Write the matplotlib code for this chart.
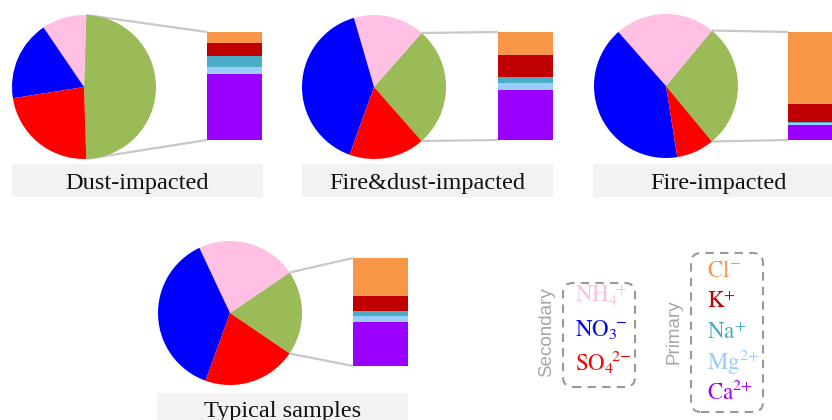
import numpy as np
import matplotlib.pyplot as plt
from matplotlib.patches import Rectangle, FancyBboxPatch

plt.rcParams["mathtext.fontset"] = "stix"

# =========================
# Data (percent)
# =========================

panel_titles = ["Dust-impacted", "Fire&dust-impacted", "Fire-impacted", "Typical samples"]

# pie order: Primary, NH4+, NO3-, SO4 2-
primary = [49.0, 27.0, 28.0, 19.0]
nh4 = [10.0, 16.0, 22.5, 22.5]
no3 = [18.0, 40.0, 41.0, 37.5]
so4 = [23.0, 17.0, 8.5, 21.0]

# primary breakdown (top to bottom in bar)
cl = [10.0, 21.0, 66.5, 35.5]
k = [12.0, 21.0, 16.5, 14.0]
na = [10.0, 5.0, 1.5, 4.5]
mg = [6.5, 7.0, 2.0, 5.5]
ca = [61.5, 46.0, 13.5, 40.5]

secondary_labels = [r"$\mathrm{NH_4\!{}^{+}}$", r"$\mathrm{NO_3\!{}^{-}}$",
                    r"$\mathrm{SO_4\!{}^{2{-}}}$"]
primary_labels = [r"$\mathrm{Cl^{-}}$", r"$\mathrm{K^{+}}$", r"$\mathrm{Na^{+}}$",
                  r"$\mathrm{Mg^{2{+}}}$", r"$\mathrm{Ca^{2{+}}}$"]

# =========================
# Styling / layout
# =========================

pie_colors = ["#9BBB59", "#FFC0E3", "#0000FF", "#FF0000"]
bar_colors = ["#F79646", "#C00000", "#4BACC6", "#99CCFF", "#9900FF"]

pie_centers = [(84, 333), (374, 333), (666, 334), (230, 107)]
pie_radius = 72
bar_left = [207, 498, 788, 353]
bar_bottom = [280, 280, 280, 54]
bar_height = 108
bar_width = 55
title_boxes = [(12, 223), (302, 223), (593, 223), (157, -6)]
title_text_y = [236, 236, 236, 9]
title_w, title_h = 251, 33

serif = "Liberation Serif"

fig = plt.figure(figsize=(8.32, 4.2), dpi=100)
ax = fig.add_axes([0, 0, 1, 1])
ax.set_xlim(0, 832)
ax.set_ylim(0, 420)
ax.set_aspect("equal")
ax.axis("off")

for i in range(4):
    fracs = [primary[i], nh4[i], no3[i], so4[i]]
    start = -180 * primary[i] / sum(fracs)
    wedges, _ = ax.pie(
        fracs,
        colors=pie_colors,
        startangle=start,
        center=pie_centers[i],
        radius=pie_radius,
        wedgeprops=dict(linewidth=0),
        frame=True,
    )

    # stacked bar, Ca at bottom, Cl at top
    parts = [ca[i], mg[i], na[i], k[i], cl[i]]
    part_colors = bar_colors[::-1]
    total = sum(parts)
    bottom = bar_bottom[i]
    for value, color in zip(parts, part_colors):
        h = value / total * bar_height
        ax.bar(bar_left[i], h, width=bar_width, bottom=bottom, color=color,
               align="edge", linewidth=0)
        bottom += h

    # connection lines
    w = wedges[0]
    cx, cy = w.center
    r = w.r
    for theta, by in [(w.theta2, bar_bottom[i] + bar_height), (w.theta1, bar_bottom[i])]:
        px = cx + r * np.cos(np.radians(theta))
        py = cy + r * np.sin(np.radians(theta))
        ax.plot([px, bar_left[i]], [py, by], color="#C8C8C8", linewidth=1.6,
                solid_capstyle="butt", zorder=0)

    # title box
    bx, by = title_boxes[i]
    ax.add_patch(Rectangle((bx, by), title_w, title_h, facecolor="#F2F2F2",
                           edgecolor="none", zorder=0))
    ax.text(bx + title_w / 2, title_text_y[i], panel_titles[i], ha="center",
            va="center", fontsize=17.5, family=serif, color="#111111")

ax.set_xlim(0, 832)
ax.set_ylim(0, 420)

# =========================
# Legend
# =========================

box_style = "round,pad=0,rounding_size=10"
ax.add_patch(FancyBboxPatch((563, 33), 72, 104, boxstyle=box_style, facecolor="none",
                            edgecolor="#999999", linestyle=(0, (4, 3)), linewidth=1.5))
ax.add_patch(FancyBboxPatch((691, 8), 72, 159, boxstyle=box_style, facecolor="none",
                            edgecolor="#999999", linestyle=(0, (4, 3)), linewidth=1.5))

ax.text(547, 88, "Secondary", rotation=90, ha="center", va="center", fontsize=13.5,
        family="Liberation Sans", color="#A6A6A6")
ax.text(674, 88, "Primary", rotation=90, ha="center", va="center", fontsize=13.5,
        family="Liberation Sans", color="#A6A6A6")

sec_colors = ["#FFC0E3", "#0000FF", "#FF0000"]
sec_y = [117, 83, 49]
for label, color, y in zip(secondary_labels, sec_colors, sec_y):
    ax.text(575, y, label, ha="left", va="baseline", fontsize=16.5, color=color)

prim_y = [143, 112, 81, 51, 21]
for label, color, y in zip(primary_labels, bar_colors, prim_y):
    ax.text(707, y, label, ha="left", va="baseline", fontsize=16.5, color=color)

fig.savefig("out.png", dpi=100)
